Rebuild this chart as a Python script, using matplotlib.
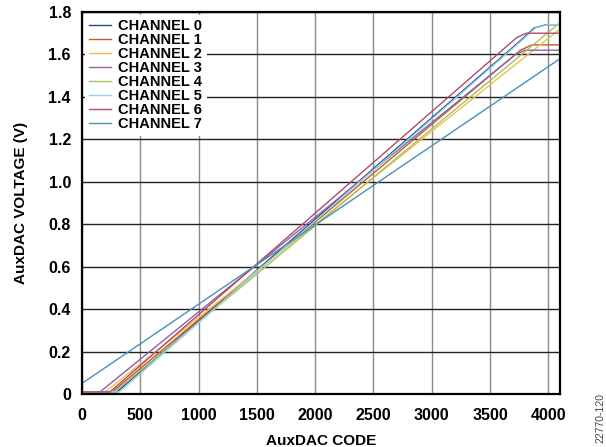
import matplotlib

matplotlib.use('Agg')

import matplotlib.pyplot as plt

plt.rcParams['font.family'] = ['Liberation Sans', 'DejaVu Sans']
plt.rcParams['font.weight'] = 'bold'

# vertices (code, volts)
ch0_x = [0, 300, 3750, 3880, 3980, 4100]
ch0_y = [0.01, 0.01, 1.66, 1.725, 1.74, 1.74]
ch1_x = [0, 260, 3760, 3860, 4100]
ch1_y = [0.01, 0.01, 1.62, 1.645, 1.645]
ch2_x = [0, 200, 4100]
ch2_y = [0.01, 0.01, 1.72]
ch3_x = [0, 155, 3720, 3800, 4100]
ch3_y = [0.01, 0.01, 1.60, 1.62, 1.62]
ch4_x = [0, 280, 4100]
ch4_y = [0.01, 0.01, 1.75]
ch5_x = [0, 320, 3760, 3890, 3990, 4100]
ch5_y = [0.01, 0.01, 1.66, 1.725, 1.74, 1.74]
ch6_x = [0, 240, 3730, 3810, 4100]
ch6_y = [0.01, 0.01, 1.68, 1.70, 1.70]
ch7_x = [0, 4100]
ch7_y = [0.05, 1.58]

series = [
    ('CHANNEL 0', ch0_x, ch0_y, '#1f4e8c'),
    ('CHANNEL 1', ch1_x, ch1_y, '#c8572a'),
    ('CHANNEL 2', ch2_x, ch2_y, '#f0c050'),
    ('CHANNEL 3', ch3_x, ch3_y, '#8a63a8'),
    ('CHANNEL 4', ch4_x, ch4_y, '#a8c060'),
    ('CHANNEL 5', ch5_x, ch5_y, '#8fd3e8'),
    ('CHANNEL 6', ch6_x, ch6_y, '#b04a6a'),
    ('CHANNEL 7', ch7_x, ch7_y, '#4a90b8'),
]

fig = plt.figure(figsize=(6.06, 4.47), dpi=100)
# axes box: x 82..560 px, y 12..394 px
ax = fig.add_axes([82 / 606, (447 - 394) / 447, 478 / 606, 382 / 447])

for name, xs, ys, col in series:
    ax.plot(xs, ys, color=col, lw=1.0, label=name)

ax.set_xlim(0, 4100)
ax.set_ylim(0, 1.8)
ax.set_xticks([0, 500, 1000, 1500, 2000, 2500, 3000, 3500, 4000])
ax.set_yticks([0, 0.2, 0.4, 0.6, 0.8, 1.0, 1.2, 1.4, 1.6, 1.8])
ax.set_yticklabels(['0', '0.2', '0.4', '0.6', '0.8', '1.0', '1.2', '1.4', '1.6', '1.8'])
ax.tick_params(length=0, labelsize=11.5)
ax.tick_params(axis='x', pad=10)
ax.tick_params(axis='y', pad=8)
for lab in ax.get_xticklabels() + ax.get_yticklabels():
    lab.set_fontweight('bold')

ax.xaxis.grid(True, color='#8a8a8a', lw=1.0)
ax.yaxis.grid(True, color='#222222', lw=1.0)
ax.set_axisbelow(True)
for sp in ax.spines.values():
    sp.set_linewidth(1.6)

ax.set_xlabel('AuxDAC CODE', fontsize=11, fontweight='bold', labelpad=8)
ax.set_ylabel('AuxDAC VOLTAGE (V)', fontsize=11, fontweight='bold', labelpad=15)

leg = ax.legend(loc='upper left', fontsize=10.5, frameon=True, fancybox=False,
                edgecolor='none', facecolor='white', framealpha=1,
                handlelength=1.5, handletextpad=0.5, labelspacing=0.0,
                borderaxespad=0.2, borderpad=0.3)
for t in leg.get_texts():
    t.set_fontweight('bold')

fig.text(0.99, 0.01, '22770-120', rotation=90, fontsize=7.5, fontweight='normal',
         color='#444444', ha='center', va='bottom')

plt.savefig('out.png', dpi=100)
